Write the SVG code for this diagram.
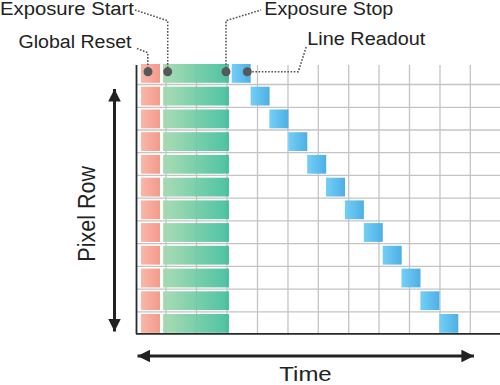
<svg xmlns="http://www.w3.org/2000/svg" width="500" height="385" viewBox="0 0 500 385">
<defs>
<linearGradient id="gRed" x1="0" y1="0" x2="1" y2="0"><stop offset="0" stop-color="#f9b7a9"/><stop offset="1" stop-color="#f39a8b"/></linearGradient>
<linearGradient id="gGreen" x1="0" y1="0" x2="1" y2="0"><stop offset="0" stop-color="#a2d9ad"/><stop offset="1" stop-color="#3ebd9c"/></linearGradient>
<linearGradient id="gBlue" x1="0" y1="0" x2="1" y2="0"><stop offset="0" stop-color="#74cff6"/><stop offset="1" stop-color="#4eafe5"/></linearGradient>
<marker id="ah" viewBox="0 0 10 10" refX="10" refY="5" markerWidth="4.2" markerHeight="4.2" orient="auto-start-reverse" markerUnits="strokeWidth"><path d="M0,0 L10,5 L0,10 z" fill="#222"/></marker>
</defs>
<style>
.lbl{font-family:"Liberation Sans",Arial,sans-serif;fill:#222;font-size:18px}
.grid line{stroke:#c4c4c4;stroke-width:1.3}
.red{fill:url(#gRed)}
.green{fill:url(#gGreen);fill-opacity:0.92}
.blue{fill:url(#gBlue)}
.lead{fill:none;stroke:#555;stroke-width:1.6;stroke-dasharray:1.6 1.6}
.dot{fill:#55595c}
.axis{stroke:#2a2a2a;stroke-width:1.8}
.arrow{stroke:#222;stroke-width:3;fill:none}
</style>
<rect width="500" height="385" fill="#fff"/>
<g id="grid" class="grid">
<line x1="166" y1="65" x2="166" y2="333"/>
<line x1="196.5" y1="65" x2="196.5" y2="333"/>
<line x1="227" y1="65" x2="227" y2="333"/>
<line x1="257.5" y1="65" x2="257.5" y2="333"/>
<line x1="288" y1="65" x2="288" y2="333"/>
<line x1="318.3" y1="65" x2="318.3" y2="333"/>
<line x1="348.7" y1="65" x2="348.7" y2="333"/>
<line x1="379" y1="65" x2="379" y2="333"/>
<line x1="409.5" y1="65" x2="409.5" y2="333"/>
<line x1="440" y1="65" x2="440" y2="333"/>
<line x1="470.3" y1="65" x2="470.3" y2="333"/>
<line x1="136" y1="84.5" x2="500" y2="84.5"/>
<line x1="136" y1="107.3" x2="500" y2="107.3"/>
<line x1="136" y1="130" x2="500" y2="130"/>
<line x1="136" y1="152.7" x2="500" y2="152.7"/>
<line x1="136" y1="175.4" x2="500" y2="175.4"/>
<line x1="136" y1="198.2" x2="500" y2="198.2"/>
<line x1="136" y1="220.9" x2="500" y2="220.9"/>
<line x1="136" y1="243.6" x2="500" y2="243.6"/>
<line x1="136" y1="266.4" x2="500" y2="266.4"/>
<line x1="136" y1="289.1" x2="500" y2="289.1"/>
<line x1="136" y1="311.8" x2="500" y2="311.8"/>
</g>
<g id="axes">
<line class="axis" x1="136.5" y1="65" x2="136.5" y2="334"/>
<line class="axis" x1="136" y1="333.8" x2="500" y2="333.8"/>
</g>
<g id="global-reset">
<rect class="red" x="141" y="64" width="19" height="18.8"/>
<rect class="red" x="141" y="86.7" width="19" height="18.8"/>
<rect class="red" x="141" y="109.5" width="19" height="18.8"/>
<rect class="red" x="141" y="132.2" width="19" height="18.8"/>
<rect class="red" x="141" y="154.9" width="19" height="18.8"/>
<rect class="red" x="141" y="177.7" width="19" height="18.8"/>
<rect class="red" x="141" y="200.4" width="19" height="18.8"/>
<rect class="red" x="141" y="223.1" width="19" height="18.8"/>
<rect class="red" x="141" y="245.8" width="19" height="18.8"/>
<rect class="red" x="141" y="268.6" width="19" height="18.8"/>
<rect class="red" x="141" y="291.3" width="19" height="18.8"/>
<rect class="red" x="141" y="314" width="19" height="18.8"/>
</g>
<g id="exposure">
<rect class="green" x="163" y="64" width="66" height="18.8"/>
<rect class="green" x="163" y="86.7" width="66" height="18.8"/>
<rect class="green" x="163" y="109.5" width="66" height="18.8"/>
<rect class="green" x="163" y="132.2" width="66" height="18.8"/>
<rect class="green" x="163" y="154.9" width="66" height="18.8"/>
<rect class="green" x="163" y="177.7" width="66" height="18.8"/>
<rect class="green" x="163" y="200.4" width="66" height="18.8"/>
<rect class="green" x="163" y="223.1" width="66" height="18.8"/>
<rect class="green" x="163" y="245.8" width="66" height="18.8"/>
<rect class="green" x="163" y="268.6" width="66" height="18.8"/>
<rect class="green" x="163" y="291.3" width="66" height="18.8"/>
<rect class="green" x="163" y="314" width="66" height="18.8"/>
</g>
<g id="readout">
<rect class="blue" x="231.7" y="64" width="19" height="18.8"/>
<rect class="blue" x="250.6" y="86.7" width="19" height="18.8"/>
<rect class="blue" x="269.4" y="109.5" width="19" height="18.8"/>
<rect class="blue" x="288.3" y="132.2" width="19" height="18.8"/>
<rect class="blue" x="307.2" y="154.9" width="19" height="18.8"/>
<rect class="blue" x="326" y="177.7" width="19" height="18.8"/>
<rect class="blue" x="344.9" y="200.4" width="19" height="18.8"/>
<rect class="blue" x="363.8" y="223.1" width="19" height="18.8"/>
<rect class="blue" x="382.7" y="245.8" width="19" height="18.8"/>
<rect class="blue" x="401.5" y="268.6" width="19" height="18.8"/>
<rect class="blue" x="420.4" y="291.3" width="19" height="18.8"/>
<rect class="blue" x="439.3" y="314" width="19" height="18.8"/>
</g>
<g id="connectors">
<polyline class="lead" points="137,48.5 147.8,52.7 147.8,68"/>
<polyline class="lead" points="135,10 167.7,20.7 167.7,68"/>
<polyline class="lead" points="226,68 226,20.7 261,10"/>
<polyline class="lead" points="249,71.7 298.3,71.7 306.5,46"/>
<line class="arrow" x1="114.5" y1="89" x2="114.5" y2="331.5" marker-start="url(#ah)" marker-end="url(#ah)"/>
<line class="arrow" x1="137.5" y1="356" x2="474" y2="356" marker-start="url(#ah)" marker-end="url(#ah)"/>
</g>
<g id="dots">
<circle class="dot" cx="148" cy="71.7" r="4.5"/>
<circle class="dot" cx="167.7" cy="71.7" r="4.5"/>
<circle class="dot" cx="226" cy="71.7" r="4.5"/>
<circle class="dot" cx="247.3" cy="71.7" r="4.5"/>
</g>
<g id="labels">
<text class="lbl" x="0" y="15" textLength="134" lengthAdjust="spacingAndGlyphs">Exposure Start</text>
<text class="lbl" x="18.5" y="48.3" textLength="113" lengthAdjust="spacingAndGlyphs">Global Reset</text>
<text class="lbl" x="264.3" y="15" textLength="129" lengthAdjust="spacingAndGlyphs">Exposure Stop</text>
<text class="lbl" x="307.3" y="44.7" textLength="118" lengthAdjust="spacingAndGlyphs">Line Readout</text>
<text class="lbl" x="279.3" y="380.5" style="font-size:21px" textLength="52.4" lengthAdjust="spacingAndGlyphs">Time</text>
<text class="lbl" transform="translate(94.5,261.7) rotate(-90)" x="0" y="0" style="font-size:23px" textLength="95.7" lengthAdjust="spacingAndGlyphs">Pixel Row</text>
</g>
</svg>
